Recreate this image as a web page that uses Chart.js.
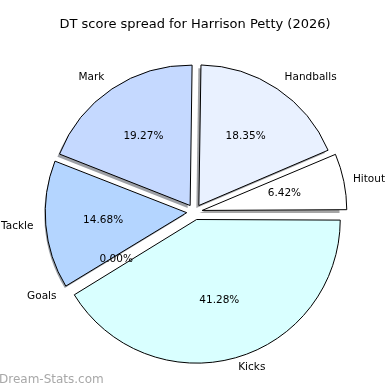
<!DOCTYPE html>
<html lang="en">
<head>
    <meta charset="UTF-8">
    <title>DT score spread</title>
    <script src="https://cdn.jsdelivr.net/npm/chart.js"></script>
    <style>
        html, body { margin: 0; padding: 0; background: #fff; }
        .container { width: 390px; height: 390px; position: relative; }
    </style>
</head>
<body>
    <div class="container">
        <canvas id="pieChart"></canvas>
    </div>

    <script>
        const chartTitle = 'DT score spread for Harrison Petty (2026)';
        // counter-clockwise from 3 o'clock, like the original
        const categories = ['Hitout', 'Handballs', 'Mark', 'Tackle', 'Goals', 'Kicks'];
        const points = [7, 20, 21, 16, 0, 45];
        const sliceColors = ['#ffffff', '#e9f1ff', '#c5d9ff', '#b4d5ff', '#ffe0e0', '#d9ffff'];

        const FONT = '"DejaVu Sans", sans-serif';
        const explodePx = 7.8; // how far each slice is pushed out
        // Chart.js v4 moves an arc by offset / 4
        const arcOffset = explodePx * 4;

        // Chart.js goes clockwise, so flip the order
        const labels = categories.slice().reverse();
        const values = points.slice().reverse();
        const colors = sliceColors.slice().reverse();
        const total = values.reduce((a, b) => a + b, 0);

        function darken(hex) {
            const n = parseInt(hex.slice(1), 16);
            const r = Math.round(((n >> 16) & 255) * 0.3);
            const g = Math.round(((n >> 8) & 255) * 0.3);
            const b = Math.round((n & 255) * 0.3);
            return `rgba(${r}, ${g}, ${b}, 0.5)`;
        }

        // matplotlib style shadow under each slice
        const shadowPlugin = {
            id: 'shadow',
            beforeDatasetsDraw(chart) {
                const ctx = chart.ctx;
                chart.getDatasetMeta(0).data.forEach((arc, i) => {
                    if (values[i] === 0) return;
                    const mid = (arc.startAngle + arc.endAngle) / 2;
                    const cx = arc.x + explodePx * Math.cos(mid) - 2.5;
                    const cy = arc.y + explodePx * Math.sin(mid) + 2.5;
                    ctx.save();
                    ctx.fillStyle = darken(colors[i]);
                    ctx.beginPath();
                    ctx.moveTo(cx, cy);
                    ctx.arc(cx, cy, arc.outerRadius, arc.startAngle, arc.endAngle);
                    ctx.closePath();
                    ctx.fill();
                    ctx.restore();
                });
            }
        };

        const textPlugin = {
            id: 'texts',
            afterDatasetsDraw(chart) {
                const ctx = chart.ctx;
                ctx.save();
                ctx.fillStyle = '#000';
                ctx.textBaseline = 'middle';
                chart.getDatasetMeta(0).data.forEach((arc, i) => {
                    const mid = (arc.startAngle + arc.endAngle) / 2;
                    const r = arc.outerRadius;
                    const dx = Math.cos(mid), dy = Math.sin(mid);
                    // category label outside
                    ctx.font = `10.5px ${FONT}`;
                    ctx.textAlign = dx >= 0 ? 'left' : 'right';
                    ctx.fillText(labels[i], arc.x + dx * (explodePx + 1.1 * r), arc.y + dy * (explodePx + 1.1 * r));
                    // percentage inside
                    ctx.textAlign = 'center';
                    const pct = (values[i] / total * 100).toFixed(2) + '%';
                    ctx.fillText(pct, arc.x + dx * (explodePx + 0.6 * r), arc.y + dy * (explodePx + 0.6 * r));
                });
                // title
                ctx.font = `13px ${FONT}`;
                ctx.textAlign = 'center';
                ctx.fillText(chartTitle, 195, 25);
                // watermark
                ctx.fillStyle = '#a8a8a8';
                ctx.font = `12px ${FONT}`;
                ctx.textAlign = 'left';
                ctx.fillText('Dream-Stats.com', -1, 380);
                ctx.restore();
            }
        };

        const config = {
            type: 'pie',
            data: {
                labels: labels,
                datasets: [{
                    data: values,
                    backgroundColor: colors,
                    borderColor: '#000',
                    borderWidth: 1,
                    offset: arcOffset,
                    hoverOffset: arcOffset
                }]
            },
            options: {
                responsive: false,
                animation: false,
                rotation: 90,
                layout: {
                    padding: { left: 38.5, right: 39.5, top: 56, bottom: 22 }
                },
                plugins: {
                    legend: { display: false },
                    tooltip: { enabled: false },
                    title: { display: false }
                }
            },
            plugins: [shadowPlugin, textPlugin]
        };

        window.onload = function () {
            const canvas = document.getElementById('pieChart');
            canvas.width = 390;
            canvas.height = 390;
            new Chart(canvas.getContext('2d'), config);
        };
    </script>
</body>
</html>
